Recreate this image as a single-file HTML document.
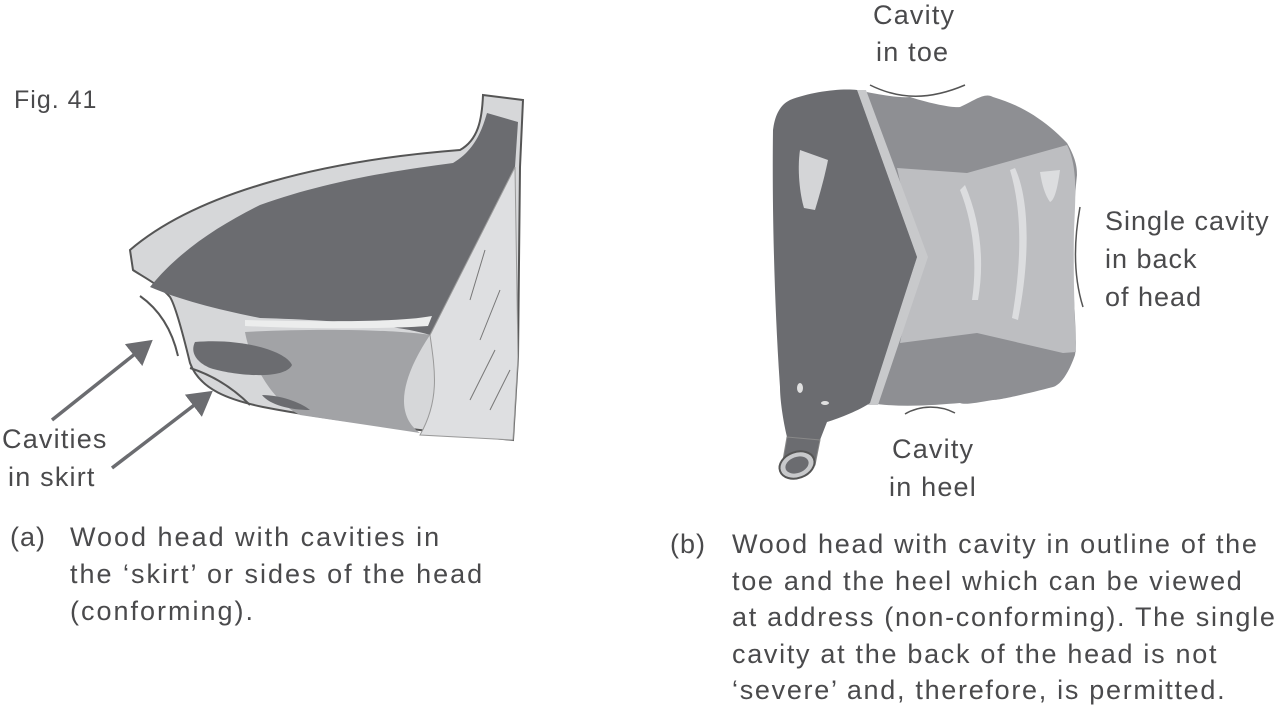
<!DOCTYPE html>
<html><head><meta charset="utf-8"><style>
html,body{margin:0;padding:0;background:#fff;}
body{width:1281px;height:712px;position:relative;overflow:hidden;font-family:"Liberation Sans",sans-serif;color:#4a4a4c;}
.t{position:absolute;font-size:27px;line-height:37px;white-space:nowrap;letter-spacing:1.8px;}
</style></head><body>
<svg width="1281" height="712" style="position:absolute;left:0;top:0">
<defs><marker id="ah" markerWidth="8" markerHeight="8" refX="6" refY="4" orient="auto" markerUnits="strokeWidth"><path d="M0,0 L7,4 L0,8 Z" fill="#6b6c70"/></marker></defs>
<path d="M130,250 C200,190 330,160 460,150 C478,140 482,120 483,95 L523,100 L520,167 L518,357 L513,440 C430,432 330,420 263,407 C230,400 200,390 190,363 C182,330 175,305 170,297 C160,285 140,275 133,270 Z" fill="#d6d7d9" stroke="#555" stroke-width="2"/>
<path d="M150,287 C180,250 220,225 260,205 C330,180 400,170 453,163 C475,150 482,130 487,113 L518,122 L515,167 C490,230 460,290 430,335 C400,325 330,320 260,318 C220,310 180,300 150,287 Z" fill="#6b6c70"/>
<path d="M430,335 C400,380 395,415 420,433 L300,415 C270,400 250,360 245,332 C320,328 400,330 430,335Z" fill="#a2a3a6"/>
<path d="M515,167 L518,357 L513,440 L420,435 C440,400 435,370 430,335 Z" fill="#dedfe1" stroke="#999" stroke-width="1"/>
<path d="M245,320 C330,322 400,322 432,316 L428,326 C400,328 330,330 245,326Z" fill="#eceded"/>
<path d="M195,342 C240,338 285,350 292,365 C285,380 235,376 210,368 C196,362 190,352 195,342Z" fill="#6b6c70"/>
<path d="M262,395 C280,395 300,402 310,410 C290,410 270,405 262,395Z" fill="#6b6c70"/>
<path d="M470,300 L485,250 M480,340 L500,290 M470,400 L495,350 M490,410 L510,370" stroke="#777" stroke-width="1"/>
<path d="M140,296 C160,310 172,330 178,356" fill="none" stroke="#555" stroke-width="2"/>
<path d="M190,368 C215,376 235,390 250,405" fill="none" stroke="#555" stroke-width="2"/>
<line x1="52" y1="420" x2="150" y2="342" stroke="#6b6c70" stroke-width="3.5" marker-end="url(#ah)"/>
<line x1="112" y1="468" x2="210" y2="393" stroke="#6b6c70" stroke-width="3.5" marker-end="url(#ah)"/>
<path d="M857,90 C880,95 900,98 910,97 C935,105 955,108 960,107 C975,100 985,92 993,97 C1020,105 1043,118 1067,143 C1077,160 1077,170 1077,175 C1072,220 1073,270 1073,280 C1075,320 1077,345 1075,355 C1068,375 1060,385 1053,387 C1030,393 1000,400 993,400 C975,403 965,405 960,403 C935,405 900,408 870,403 Z" fill="#8e8f93"/>
<path d="M897,168 L967,173 L1067,145 C1077,165 1076,190 1074,230 C1073,280 1075,320 1076,352 L1063,353 L977,333 L900,343 L917,257 Z" fill="#bdbec1"/>
<path d="M965,185 C980,220 985,260 978,300 L972,300 C978,260 972,220 960,190Z" fill="#dcdddf"/>
<path d="M1015,168 C1030,200 1030,260 1018,320 L1012,318 C1022,260 1022,210 1010,170Z" fill="#dcdddf"/>
<path d="M1040,172 L1060,170 C1058,185 1055,200 1050,202 C1045,195 1042,185 1040,172Z" fill="#dcdddf"/>
<path d="M857,90 L866,90 L928,257 L878,405 L868,405 L917,257 Z" fill="#c8c9cb"/>
<path d="M790,100 C810,92 840,88 857,90 L917,257 L870,403 C860,410 840,418 827,422 L820,440 L787,437 C783,420 780,400 780,387 C774,300 772,200 773,130 C775,115 780,105 790,100Z" fill="#6b6c70"/>
<path d="M800,150 L828,160 C824,180 818,200 815,210 L804,208 C800,195 797,170 800,150Z" fill="#d4d5d7"/>
<ellipse cx="800" cy="388" rx="3" ry="5" fill="#e0e0e0"/><ellipse cx="825" cy="403" rx="4" ry="2" fill="#e0e0e0"/>
<path d="M787,437 L820,440 L815,465 L783,460 Z" fill="#6b6c70" stroke="#888"/>
<ellipse cx="797" cy="465" rx="18" ry="13" fill="#c8c9cb" stroke="#555" stroke-width="2" transform="rotate(-20 797 465)"/>
<ellipse cx="797" cy="465" rx="12" ry="8" fill="#6b6c70" transform="rotate(-20 797 465)"/>
<path d="M870,85 C900,100 930,100 965,85" fill="none" stroke="#555" stroke-width="1.5"/>
<path d="M905,414 C920,405 940,405 955,413" fill="none" stroke="#555" stroke-width="1.5"/>
<path d="M1080,207 C1074,240 1073,275 1083,307" fill="none" stroke="#555" stroke-width="1.5"/>
</svg>
<div class="t" style="left:14px;top:82px;font-size:25px;letter-spacing:1px">Fig. 41</div>
<div class="t" style="left:2px;top:421px;letter-spacing:1.2px">Cavities</div>
<div class="t" style="left:8px;top:459px;letter-spacing:1.2px">in skirt</div>
<div class="t" style="left:873px;top:-3px;letter-spacing:1.2px">Cavity</div>
<div class="t" style="left:876px;top:34px;letter-spacing:1.2px">in toe</div>
<div class="t" style="left:1105px;top:203px;letter-spacing:1px">Single cavity</div>
<div class="t" style="left:1105px;top:241px;letter-spacing:1px">in back</div>
<div class="t" style="left:1105px;top:279px;letter-spacing:1px">of head</div>
<div class="t" style="left:892px;top:431px;letter-spacing:1.2px">Cavity</div>
<div class="t" style="left:889px;top:469px;letter-spacing:1.2px">in heel</div>
<div class="t" style="left:10px;top:519px;letter-spacing:1px">(a)</div>
<div class="t" style="left:70px;top:519px;letter-spacing:2px">Wood head with cavities in<br>the ‘skirt’ or sides of the head<br>(conforming).</div>
<div class="t" style="left:670px;top:526px;letter-spacing:1px">(b)</div>
<div class="t" style="left:732px;top:526px;line-height:36.5px;letter-spacing:1.7px">Wood head with cavity in outline of the<br>toe and the heel which can be viewed<br>at address (non-conforming). The single<br>cavity at the back of the head is not<br>‘severe’ and, therefore, is permitted.</div>
</body></html>
